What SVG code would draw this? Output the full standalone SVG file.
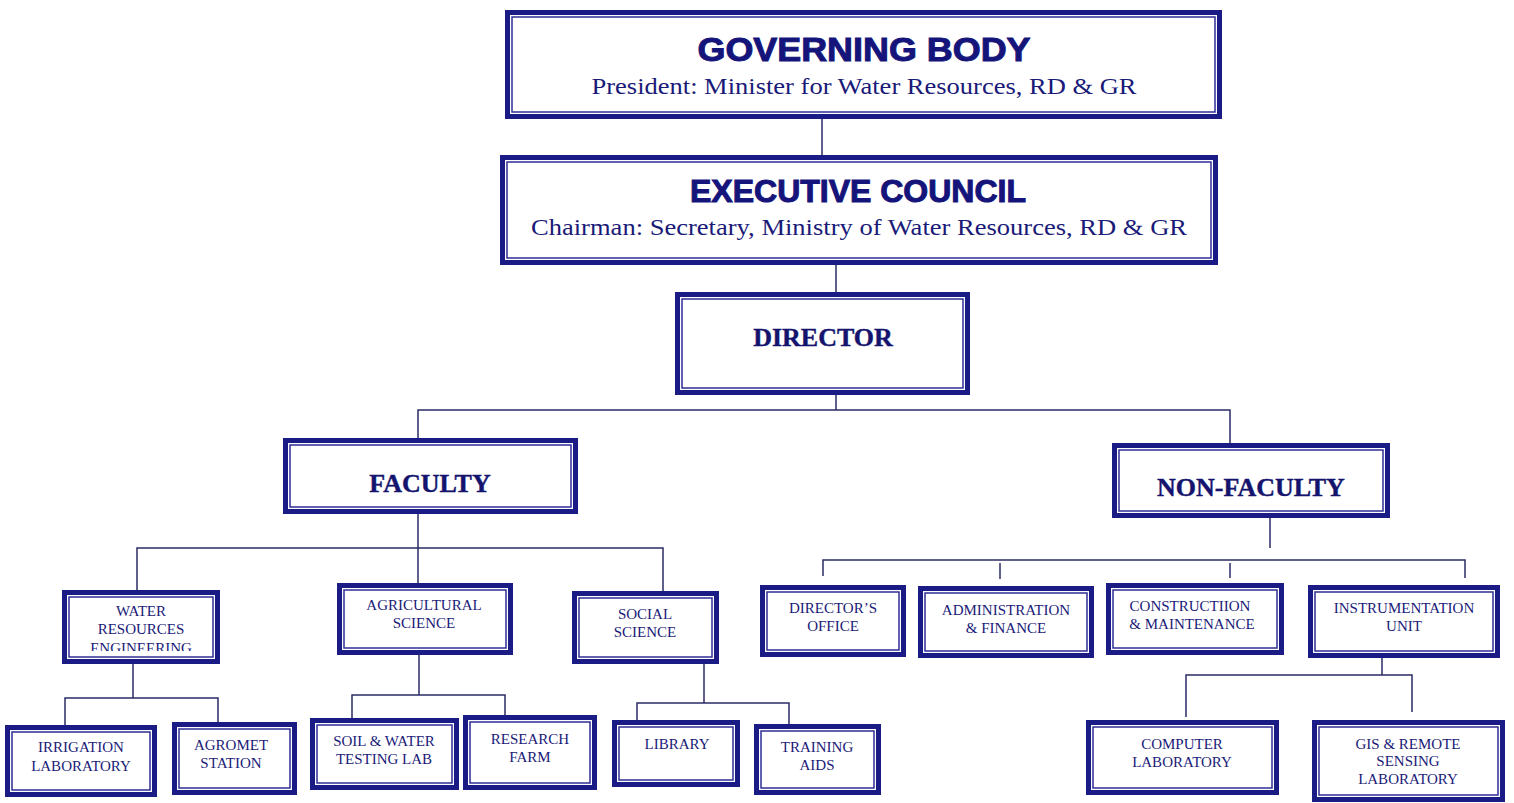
<svg xmlns="http://www.w3.org/2000/svg" width="1514" height="803" viewBox="0 0 1514 803">
<style>
.o{fill:#fff;stroke:#1b1b86;stroke-width:5}
.i{fill:none;stroke:#2e2e96;stroke-width:1.5}
.c{fill:none;stroke:#2b2b66;stroke-width:1.5}
.hs{font-family:"Liberation Sans",Arial,sans-serif;font-weight:bold;fill:#14147a;stroke:#14147a;stroke-width:1;text-anchor:middle}
.sub{font-family:"Liberation Serif","Times New Roman",serif;fill:#1a1a78;text-anchor:middle;font-size:24px}
.hb{font-family:"Liberation Serif","Times New Roman",serif;font-weight:bold;fill:#14146e;stroke:#14146e;stroke-width:0.4;text-anchor:middle;font-size:26px}
.t{font-family:"Liberation Serif","Times New Roman",serif;fill:#1a1a78;text-anchor:middle;font-size:15px}
</style>
<defs>
<clipPath id="wreclip"><rect x="69" y="597" width="144" height="54"/></clipPath>
</defs>
<rect width="1514" height="803" fill="#fff"/>
<g id="connectors">
<line class="c" x1="822" y1="119" x2="822" y2="155"/>
<line class="c" x1="836" y1="265" x2="836" y2="292"/>
<polyline class="c" points="836,395 836,410"/>
<polyline class="c" points="418,438 418,410 1230,410 1230,443"/>
<line class="c" x1="418" y1="514" x2="418" y2="583"/>
<polyline class="c" points="137,590 137,548 663,548 663,591"/>
<line class="c" x1="1270" y1="518" x2="1270" y2="548"/>
<polyline class="c" points="823,576 823,560 1465,560 1465,578"/>
<line class="c" x1="1000" y1="563" x2="1000" y2="579"/>
<line class="c" x1="1230" y1="563" x2="1230" y2="578"/>
<line class="c" x1="133" y1="664" x2="133" y2="698"/>
<polyline class="c" points="65,725 65,698 218,698 218,722"/>
<line class="c" x1="419" y1="655" x2="419" y2="695"/>
<polyline class="c" points="352,718 352,695 505,695 505,715"/>
<line class="c" x1="704" y1="664" x2="704" y2="703"/>
<polyline class="c" points="637,720 637,703 789,703 789,724"/>
<line class="c" x1="1382" y1="658" x2="1382" y2="675"/>
<polyline class="c" points="1186,717 1186,675 1412,675 1412,712"/>
</g>
<g id="governing-body">
<rect class="o" x="507.5" y="12.5" width="712" height="104"/>
<rect class="i" x="512" y="17" width="703" height="95"/>
<text class="hs" x="864" y="61" font-size="34" textLength="333" lengthAdjust="spacingAndGlyphs">GOVERNING BODY</text>
<text class="sub" x="864" y="94" textLength="545" lengthAdjust="spacingAndGlyphs">President: Minister for Water Resources, RD &amp; GR</text>
</g>
<g id="executive-council">
<rect class="o" x="502.5" y="157.5" width="713" height="105"/>
<rect class="i" x="507" y="162" width="704" height="96"/>
<text class="hs" x="858" y="202" font-size="31" textLength="336" lengthAdjust="spacingAndGlyphs">EXECUTIVE COUNCIL</text>
<text class="sub" x="859" y="235" textLength="656" lengthAdjust="spacingAndGlyphs">Chairman: Secretary, Ministry of Water Resources, RD &amp; GR</text>
</g>
<g id="director">
<rect class="o" x="677.5" y="294.5" width="290" height="98"/>
<rect class="i" x="682" y="299" width="281" height="89"/>
<text class="hb" x="823" y="346">DIRECTOR</text>
</g>
<g id="faculty">
<rect class="o" x="285.5" y="440.5" width="290" height="71"/>
<rect class="i" x="290" y="445" width="281" height="62"/>
<text class="hb" x="430" y="492">FACULTY</text>
</g>
<g id="non-faculty">
<rect class="o" x="1114.5" y="445.5" width="273" height="70"/>
<rect class="i" x="1119" y="450" width="264" height="61"/>
<text class="hb" x="1251" y="496">NON-FACULTY</text>
</g>
<g id="water-resources-engineering">
<rect class="o" x="64.5" y="592.5" width="153" height="69"/>
<rect class="i" x="69" y="597" width="144" height="60"/>
<text class="t" x="141" y="616">WATER</text>
<text class="t" x="141" y="634">RESOURCES</text>
<text class="t" x="141" y="653" clip-path="url(#wreclip)">ENGINEERING</text>
</g>
<g id="agricultural-science">
<rect class="o" x="339.5" y="585.5" width="171" height="67"/>
<rect class="i" x="344" y="590" width="162" height="58"/>
<text class="t" x="424" y="610">AGRICULTURAL</text>
<text class="t" x="424" y="628">SCIENCE</text>
</g>
<g id="social-science">
<rect class="o" x="574.5" y="593.5" width="142" height="68"/>
<rect class="i" x="579" y="598" width="133" height="59"/>
<text class="t" x="645" y="619">SOCIAL</text>
<text class="t" x="645" y="637">SCIENCE</text>
</g>
<g id="irrigation-laboratory">
<rect class="o" x="7.5" y="727.5" width="147" height="67"/>
<rect class="i" x="12" y="732" width="138" height="58"/>
<text class="t" x="81" y="752">IRRIGATION</text>
<text class="t" x="81" y="771">LABORATORY</text>
</g>
<g id="agromet-station">
<rect class="o" x="174.5" y="724.5" width="120" height="68"/>
<rect class="i" x="179" y="729" width="111" height="59"/>
<text class="t" x="231" y="750">AGROMET</text>
<text class="t" x="231" y="768">STATION</text>
</g>
<g id="soil-water-testing-lab">
<rect class="o" x="312.5" y="720.5" width="144" height="67"/>
<rect class="i" x="317" y="725" width="135" height="58"/>
<text class="t" x="384" y="746">SOIL &amp; WATER</text>
<text class="t" x="384" y="764">TESTING LAB</text>
</g>
<g id="research-farm">
<rect class="o" x="465.5" y="717.5" width="129" height="70"/>
<rect class="i" x="470" y="722" width="120" height="61"/>
<text class="t" x="530" y="744">RESEARCH</text>
<text class="t" x="530" y="762">FARM</text>
</g>
<g id="library">
<rect class="o" x="614.5" y="722.5" width="123" height="62"/>
<rect class="i" x="619" y="727" width="114" height="53"/>
<text class="t" x="677" y="749">LIBRARY</text>
</g>
<g id="training-aids">
<rect class="o" x="756.5" y="726.5" width="122" height="66"/>
<rect class="i" x="761" y="731" width="113" height="57"/>
<text class="t" x="817" y="752">TRAINING</text>
<text class="t" x="817" y="770">AIDS</text>
</g>
<g id="directors-office">
<rect class="o" x="762.5" y="587.5" width="141" height="67"/>
<rect class="i" x="767" y="592" width="132" height="58"/>
<text class="t" x="833" y="613">DIRECTOR’S</text>
<text class="t" x="833" y="631">OFFICE</text>
</g>
<g id="administration-finance">
<rect class="o" x="920.5" y="588.5" width="171" height="67"/>
<rect class="i" x="925" y="593" width="162" height="58"/>
<text class="t" x="1006" y="615">ADMINISTRATION</text>
<text class="t" x="1006" y="633">&amp; FINANCE</text>
</g>
<g id="construction-maintenance">
<rect class="o" x="1108.5" y="585.5" width="173" height="67"/>
<rect class="i" x="1113" y="590" width="164" height="58"/>
<text class="t" x="1190" y="611">CONSTRUCTIION</text>
<text class="t" x="1192" y="629">&amp; MAINTENANCE</text>
</g>
<g id="instrumentation-unit">
<rect class="o" x="1310.5" y="587.5" width="187" height="68"/>
<rect class="i" x="1315" y="592" width="178" height="59"/>
<text class="t" x="1404" y="613">INSTRUMENTATION</text>
<text class="t" x="1404" y="631">UNIT</text>
</g>
<g id="computer-laboratory">
<rect class="o" x="1088.5" y="722.5" width="188" height="70"/>
<rect class="i" x="1093" y="727" width="179" height="61"/>
<text class="t" x="1182" y="749">COMPUTER</text>
<text class="t" x="1182" y="767">LABORATORY</text>
</g>
<g id="gis-remote-sensing-laboratory">
<rect class="o" x="1314.5" y="722.5" width="188" height="77"/>
<rect class="i" x="1319" y="727" width="179" height="68"/>
<text class="t" x="1408" y="749">GIS &amp; REMOTE</text>
<text class="t" x="1408" y="766">SENSING</text>
<text class="t" x="1408" y="784">LABORATORY</text>
</g>
</svg>
